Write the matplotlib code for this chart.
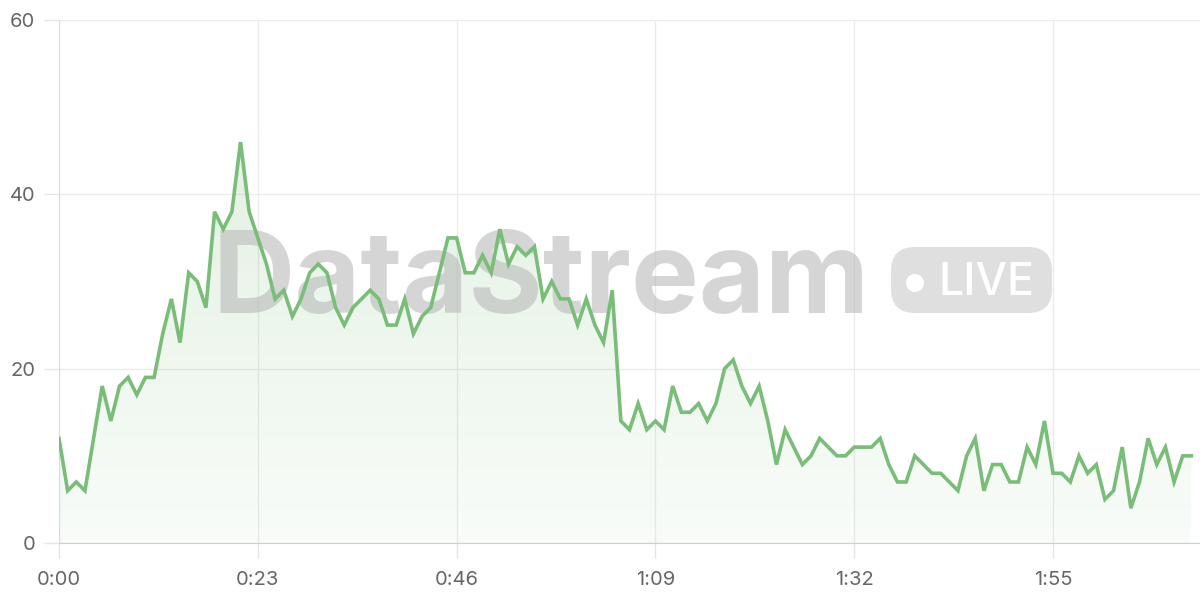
"""Live stream chart: one green series over time with a DataStream LIVE watermark."""
import numpy as np
import matplotlib
matplotlib.use('Agg')
import matplotlib.pyplot as plt
from matplotlib.patches import FancyBboxPatch, Circle
from matplotlib.transforms import Affine2D

# seconds since start, one reading per second
values = [12, 6, 7, 6, 12, 18, 14, 18, 19, 17, 19, 19, 24, 28, 23, 31, 30, 27, 38, 36,
          38, 46, 38, 35, 32, 28, 29, 26, 28, 31, 32, 31, 27, 25, 27, 28, 29, 28, 25, 25,
          28, 24, 26, 27, 31, 35, 35, 31, 31, 33, 31, 36, 32, 34, 33, 34, 28, 30, 28, 28,
          25, 28, 25, 23, 29, 14, 13, 16, 13, 14, 13, 18, 15, 15, 16, 14, 16, 20, 21, 18,
          16, 18, 14, 9, 13, 11, 9, 10, 12, 11, 10, 10, 11, 11, 11, 12, 9, 7, 7, 10,
          9, 8, 8, 7, 6, 10, 12, 6, 9, 9, 7, 7, 11, 9, 14, 8, 8, 7, 10, 8,
          9, 5, 6, 11, 4, 7, 12, 9, 11, 7, 10, 10]
seconds = list(range(len(values)))
x_ticks = [0, 23, 46, 69, 92, 115]
x_labels = ['0:00', '0:23', '0:46', '1:09', '1:32', '1:55']
y_ticks = [0, 20, 40, 60]

W, H = 1200, 600
GREEN = '#79bd79'
LABEL = '#666666'

plt.rcParams['font.family'] = ['Inter', 'DejaVu Sans']

fig = plt.figure(figsize=(W / 100, H / 100), dpi=100)
ax = fig.add_axes([59 / W, 57 / H, (W - 59) / W, (543 - 20) / H])

# pixel coordinates, origin top-left of the figure
px = Affine2D().scale(1 / W, -1 / H).translate(0, 1) + fig.transFigure

# gradient fill under the line
poly = ax.fill_between(seconds, values, 0, color='none', lw=0, zorder=1)
grad = np.zeros((256, 2, 4))
grad[..., 0] = 121 / 255
grad[..., 1] = 189 / 255
grad[..., 2] = 121 / 255
grad[..., 3] = np.linspace(0.25, 0.05, 256)[:, None]
img = ax.imshow(grad, extent=[0, seconds[-1], 0, 60], origin='upper',
                aspect='auto', zorder=1)
img.set_clip_path(poly.get_paths()[0], transform=ax.transData)

# watermark
ax.text(870, 313, 'DataStream', transform=px, ha='right', va='baseline',
        fontsize=82, fontweight='bold', color='#b8b8b8', alpha=0.58, zorder=2)
pill = FancyBboxPatch((891, 247), 161, 66, boxstyle='round,pad=0,rounding_size=24',
                      transform=px, fc='#bdbdbd', ec='none', alpha=0.48,
                      zorder=2, clip_on=False)
ax.add_patch(pill)
ax.add_patch(Circle((915, 283), 9, transform=px, fc='white', ec='none',
                    zorder=2.1, clip_on=False))
ax.text(938, 295, 'LIVE', transform=px, ha='left', va='baseline',
        fontsize=32, fontweight='medium', color='white', zorder=2.1)

ax.plot(seconds, values, color=GREEN, lw=2.6, zorder=3, solid_joinstyle='miter')

ax.set_xlim(0, 132)
ax.set_ylim(0, 60)
ax.set_xticks(x_ticks)
ax.set_xticklabels(x_labels)
ax.set_yticks(y_ticks)
ax.grid(True, color='#ebebeb', lw=1)
ax.set_axisbelow(True)
ax.tick_params(length=11, width=1, color='#e6e6e6', labelcolor=LABEL,
               labelsize=14.5)
ax.tick_params(axis='x', pad=9)
ax.tick_params(axis='y', pad=6)
for side in ['top', 'right']:
    ax.spines[side].set_visible(False)
ax.spines['left'].set_color('#dcdcdc')
ax.spines['bottom'].set_color('#cfcfcf')

fig.savefig('out.png', dpi=100)
